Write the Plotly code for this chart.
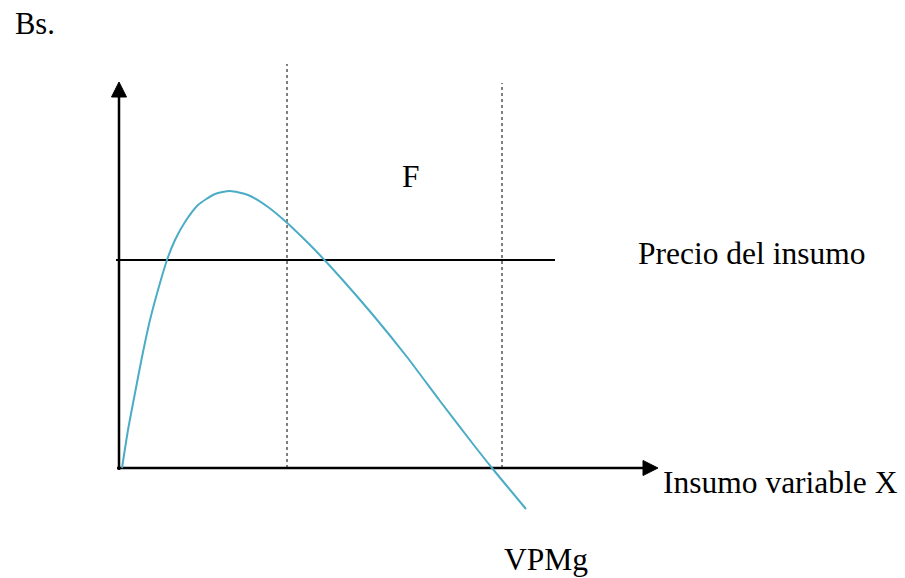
import plotly.graph_objects as go

# Curve VPMg (x = input quantity, y = value)
vpmg_x = [3, 9, 16, 23, 31, 39, 48, 56, 66, 79, 96, 111, 129, 149, 166, 183, 196,
          221, 254, 288, 321, 354, 373, 407]
vpmg_y = [0, 38, 75, 111, 148, 178, 208, 228, 246, 263, 274, 277, 273, 261, 247, 231, 218,
          191, 153, 111, 67, 24, 0, -41]

price_level = 208
price_x = [-3, 436]

stage_lines_x = [168, 383]
stage_lines_top = [404, 385]

y_axis_top = 386
x_axis_right = 539
arrow_len = 15
arrow_half = 7.5

labels = ["Bs.", "F", "Precio del insumo", "Insumo variable X", "VPMg"]
label_x = [-106, 281, 517, 542, 383]
label_y = [444, 292, 215, -14, -91]
label_size = [30.5, 31.5, 31.5, 31.5, 31.5]

fig = go.Figure()

# dotted stage lines
for sx, st in zip(stage_lines_x, stage_lines_top):
    fig.add_trace(go.Scatter(x=[sx, sx], y=[0, st], mode="lines",
                             line=dict(color="black", width=1, dash="dot"),
                             hoverinfo="skip", showlegend=False))

# price line
fig.add_trace(go.Scatter(x=price_x, y=[price_level, price_level], mode="lines",
                         line=dict(color="black", width=2), hoverinfo="skip", showlegend=False))

# axes
fig.add_trace(go.Scatter(x=[0, 0], y=[-2, y_axis_top - arrow_len], mode="lines",
                         line=dict(color="black", width=2.5), hoverinfo="skip", showlegend=False))
fig.add_trace(go.Scatter(x=[-2, x_axis_right - arrow_len], y=[0, 0], mode="lines",
                         line=dict(color="black", width=2.5), hoverinfo="skip", showlegend=False))
# arrowheads
fig.add_trace(go.Scatter(x=[-arrow_half, 0, arrow_half, -arrow_half],
                         y=[y_axis_top - arrow_len, y_axis_top, y_axis_top - arrow_len, y_axis_top - arrow_len],
                         mode="lines", fill="toself", fillcolor="black",
                         line=dict(color="black", width=1), hoverinfo="skip", showlegend=False))
fig.add_trace(go.Scatter(x=[x_axis_right - arrow_len, x_axis_right, x_axis_right - arrow_len, x_axis_right - arrow_len],
                         y=[arrow_half, 0, -arrow_half, arrow_half],
                         mode="lines", fill="toself", fillcolor="black",
                         line=dict(color="black", width=1), hoverinfo="skip", showlegend=False))

# VPMg curve
fig.add_trace(go.Scatter(x=vpmg_x, y=vpmg_y, mode="lines",
                         line=dict(color="#4BACC6", width=2, shape="spline", smoothing=0.6),
                         hoverinfo="skip", showlegend=False))

for t, lx, ly, sz in zip(labels, label_x, label_y, label_size):
    fig.add_annotation(x=lx, y=ly, text=t, showarrow=False, xanchor="left", yanchor="middle",
                       font=dict(family="Liberation Serif", size=sz, color="black"))

fig.update_layout(
    width=905, height=578, autosize=False,
    margin=dict(l=0, r=0, t=0, b=0),
    paper_bgcolor="white", plot_bgcolor="white",
    xaxis=dict(range=[-119, 786], visible=False, fixedrange=True),
    yaxis=dict(range=[-110, 468], visible=False, fixedrange=True),
    showlegend=False,
)

# remove the default page margin so the figure fills the window exactly
fig.write_html("out.html",
               config={"displayModeBar": False, "staticPlot": True},
               post_script="document.body.style.margin='0';document.body.style.overflow='hidden';")
